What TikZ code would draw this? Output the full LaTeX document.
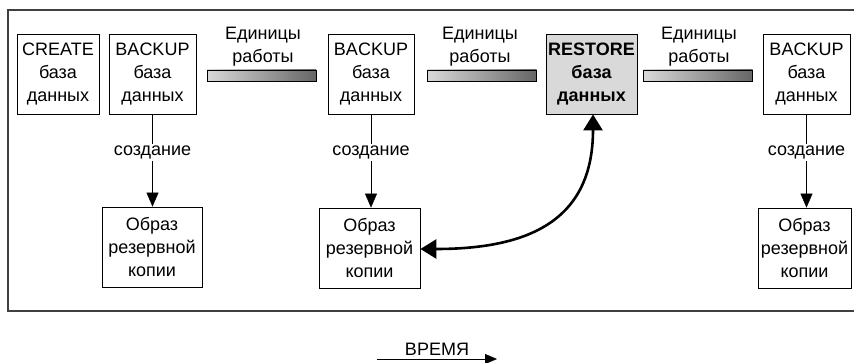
\documentclass[tikz,border=0pt]{standalone}
\usepackage{fontspec}
\setmainfont{Liberation Sans}
\usetikzlibrary{arrows.meta}

\tikzset{
  dbox/.style={draw, thick, align=center, inner sep=0pt, minimum height=80pt},
  ubar/.style={draw, thick, inner sep=0pt, minimum width=109pt, minimum height=11pt,
    left color=black!15, right color=black!60},
  mklabel/.style={fill=white, inner sep=2pt},
}

\begin{document}
\begin{tikzpicture}[x=1pt,y=-1pt,font=\fontsize{18}{23}\selectfont]

        \useasboundingbox (0,0) rectangle (854,363);
        \draw[line width=1.3pt, black!75] (854,10) -- (8,10) -- (8,311) -- (854,311);

        \begin{scope}[every node/.style={dbox}]
          \node[minimum width=82pt] (c)  at (58,74)    {CREATE\\база\\данных};
          \node[minimum width=87pt] (b1) at (152.5,74) {BACKUP\\база\\данных};
          \node[minimum width=86pt] (b2) at (371,74)   {BACKUP\\база\\данных};
          \node[minimum width=91pt, fill=black!15, font=\fontsize{18}{23}\selectfont\bfseries]
                                    (r)  at (591.5,74) {RESTORE\\база\\данных};
          \node[minimum width=87pt] (b3) at (806.5,74) {BACKUP\\база\\данных};
          \node[minimum width=100pt] (i1) at (152,247)  {Образ\\резервной\\копии};
          \node[minimum width=101pt] (i2) at (369.5,248) {Образ\\резервной\\копии};
          \node[minimum width=93pt]  (i3) at (804.5,248) {Образ\\резервной\\копии};
        \end{scope}

        \begin{scope}[every node/.style={ubar}]
          \node (u1) at (261.5,75.5) {};
          \node (u2) at (482,75.5)   {};
          \node (u3) at (698,75.5)   {};
        \end{scope}

        \begin{scope}[every node/.style={align=center, inner sep=0pt}]
          \node (l1) at (263,47) {Единицы\\работы};
          \node (l2) at (480,47) {Единицы\\работы};
          \node (l3) at (699,47) {Единицы\\работы};
        \end{scope}

        % backups -> images
        \begin{scope}[-{Triangle[length=14pt,width=12pt]}, thin]
          \path (b1) edge node[mklabel, pos=.41] {создание} (b1.south |- i1.north);
          \path (b2) edge node[mklabel, pos=.41] {создание} (b2.south |- i2.north);
          \path (b3) edge node[mklabel, pos=.41] {создание} (b3.south |- i3.north);
        \end{scope}

        % restore from image
        \draw[line width=2.6pt, {Triangle[length=16pt,width=19pt]}-{Triangle[length=16pt,width=19pt]}]
          ([xshift=1.5pt]r.south) to[out=-90,in=0,looseness=1.25] ([yshift=-1pt]i2.east);

        % time axis
        \coordinate (t0) at (377,359);
        \coordinate (t1) at (497,359);
        \draw[-{Triangle[length=12pt,width=10pt]}] (t0) -- (t1)
          node[midway, above=3pt, inner sep=0pt] (tt) {ВРЕМЯ};

\end{tikzpicture}
\end{document}
